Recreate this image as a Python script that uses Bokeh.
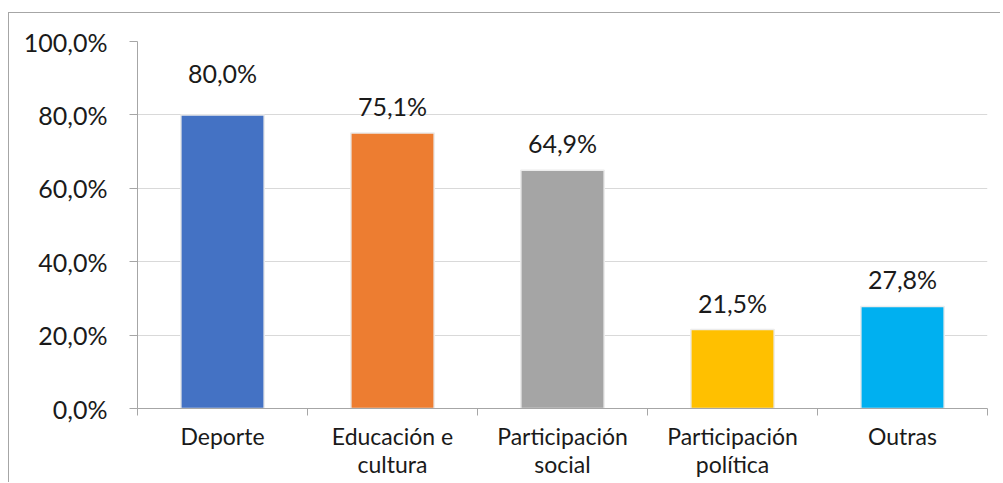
from bokeh.plotting import figure
from bokeh.models import Range1d, FixedTicker, ColumnDataSource
from bokeh.core.properties import value
from bokeh.embed import file_html
from bokeh.resources import INLINE

categories = ["Deporte", "Educación e\ncultura", "Participación\nsocial", "Participación\npolítica", "Outras"]
values = [80.0, 75.1, 64.9, 21.5, 27.8]
colors = ["#4472C4", "#ED7D31", "#A5A5A5", "#FFC000", "#00B0F0"]
y_ticks = [0, 20, 40, 60, 80, 100]
label_nudge = [15, 0, 0, 0, 0]  # extra upward pixel offset for labels (style)

FONT = "Lato"
TXT = "#1a1a1a"

xs = [i + 0.5 for i in range(len(categories))]
labels = [f"{v:.1f}%".replace(".", ",") for v in values]
src = ColumnDataSource(dict(x=xs, top=values, color=colors, label=labels,
                            dy=[-(27 + n) for n in label_nudge]))

p = figure(width=992, height=470, output_backend="svg", toolbar_location=None,
           x_range=Range1d(0, len(categories)), y_range=Range1d(0, 100),
           min_border_left=128, min_border_right=14, min_border_top=28, min_border_bottom=75)
p.styles = {"border-top": "1px solid #a6a6a6", "border-left": "1px solid #a6a6a6",
            "margin-top": "12px", "margin-left": "8px"}
p.outline_line_color = None
p.background_fill_color = "white"
p.border_fill_color = "white"

p.vbar(x="x", top="top", width=0.49, fill_color="color", line_color="#ececec", line_width=1.5, source=src)
p.text(x="x", y="top", text="label", y_offset="dy", text_align="center", text_baseline="alphabetic",
       text_font=value(FONT), text_font_size="25px", text_color=TXT, source=src)

# y axis
ya = p.yaxis[0]
ya.ticker = FixedTicker(ticks=y_ticks)
ya.major_label_overrides = {t: f"{t:.1f}%".replace(".", ",") for t in y_ticks}
ya.major_label_text_font = FONT
ya.major_label_text_font_size = "25px"
ya.major_label_text_color = TXT
ya.axis_line_color = "#a6a6a6"
ya.major_tick_line_color = "#a6a6a6"
ya.major_tick_out = 8
ya.major_tick_in = 0
ya.minor_tick_line_color = None
ya.major_label_standoff = 22

# x axis
xa = p.xaxis[0]
xa.ticker = FixedTicker(ticks=xs, minor_ticks=list(range(len(categories) + 1)))
xa.major_label_overrides = {x: c for x, c in zip(xs, categories)}
xa.major_label_text_font = FONT
xa.major_label_text_font_size = "23px"
xa.major_label_text_line_height = 1.0
xa.major_label_text_color = TXT
xa.axis_line_color = "#a6a6a6"
xa.major_tick_line_color = None
xa.major_tick_out = 0
xa.major_tick_in = 0
xa.minor_tick_line_color = "#a6a6a6"
xa.minor_tick_out = 7
xa.minor_tick_in = 0
xa.major_label_standoff = 6

p.xgrid.grid_line_color = None
p.ygrid.ticker = FixedTicker(ticks=y_ticks)
p.ygrid.grid_line_color = "#d9d9d9"

open("out.html", "w").write(file_html(p, INLINE))
